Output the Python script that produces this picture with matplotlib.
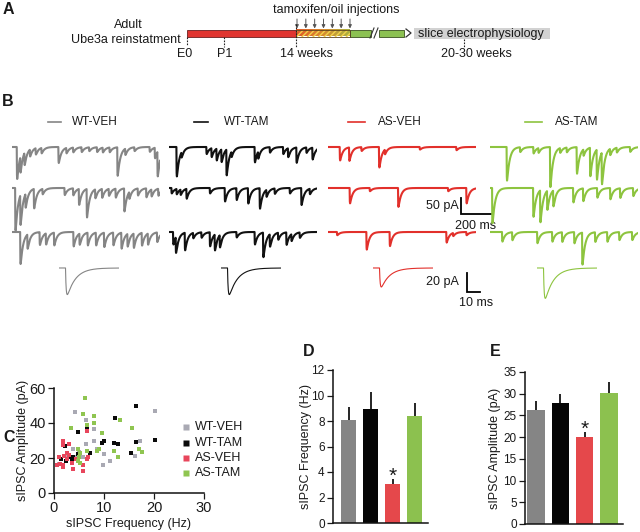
import numpy as np
import matplotlib
matplotlib.use("Agg")
import matplotlib.pyplot as plt
from matplotlib.patches import Rectangle
from matplotlib.colors import LinearSegmentedColormap

plt.rcParams['font.family'] = ['Liberation Sans', 'DejaVu Sans']

W, H = 640, 532
fig = plt.figure(figsize=(6.4, 5.32), dpi=100)


def px_axes(x0, y0, w, h):
    ax = fig.add_axes([x0 / W, 1 - (y0 + h) / H, w / W, h / H])
    ax.patch.set_visible(False)
    return ax


# ---------------- data ----------------
groups = ["WT-VEH", "WT-TAM", "AS-VEH", "AS-TAM"]
trace_colors = ["#858585", "#111111", "#e2302b", "#8dc43f"]
bar_colors = ["#858585", "#050505", "#e5484b", "#8cc14f"]
scatter_colors = ["#a9a9b3", "#0a0a0a", "#e8465c", "#8fc550"]

# Panel A
timeline_labels = ["E0", "P1", "14 weeks", "20-30 weeks"]
n_injections = 7

# Panel B: spontaneous events per sweep, (time ms, amplitude pA)
events_wt_veh = [
    [(32, 100), (55, 50), (83, 39), (120, 22), (159, 20), (198, 17), (313, 50), (366, 17),
     (412, 15), (469, 15), (520, 12), (573, 15), (612, 15), (658, 15), (711, 89), (764, 20),
     (826, 12), (929, 15), (964, 33), (982, 78)],
    [(21, 133), (55, 94), (90, 44), (147, 61), (205, 17), (354, 22), (412, 22), (451, 50),
     (504, 89), (561, 28), (607, 28), (653, 22), (699, 28), (757, 72), (791, 22), (849, 22),
     (906, 28), (941, 22), (987, 22)],
    [(55, 100), (103, 45), (186, 40), (228, 35), (283, 40), (414, 45), (455, 35), (510, 40),
     (566, 40), (621, 45), (683, 40), (738, 50), (779, 40), (821, 45), (876, 40), (917, 35),
     (979, 30)],
]
events_wt_tam = [
    [(50, 92), (83, 17), (252, 22), (286, 28), (320, 37), (353, 40), (387, 81), (421, 17),
     (578, 48), (601, 22), (680, 17), (770, 22), (803, 28), (860, 48), (927, 17), (968, 37)],
    [(16, 17), (50, 17), (77, 17), (117, 31), (275, 17), (376, 42), (455, 37), (533, 48),
     (612, 64), (657, 22), (713, 17), (815, 17), (893, 53), (950, 17)],
    [(27, 39), (45, 50), (106, 55), (162, 17), (218, 17), (275, 44), (308, 50), (342, 39),
     (455, 17), (578, 39), (635, 77), (680, 39), (736, 22), (792, 39), (826, 22), (882, 17)],
]
events_as_veh = [
    [(79, 42), (142, 42), (225, 12), (344, 64), (383, 15), (619, 8), (866, 10)],
    [(146, 48), (281, 10), (473, 59), (810, 10), (934, 48)],
    [(60, 10), (259, 55), (416, 44), (799, 33), (844, 10), (934, 10)],
]
events_as_tam = [
    [(112, 105), (202, 15), (292, 20), (326, 15), (405, 125), (472, 15), (517, 15), (585, 83),
     (630, 20), (675, 89), (720, 94), (754, 100), (810, 20), (855, 15), (945, 15)],
    [(14, 110), (291, 90), (338, 100), (385, 60), (426, 50), (561, 45), (628, 40), (723, 30),
     (811, 35), (878, 30), (966, 25)],
    [(81, 30), (149, 25), (318, 35), (419, 30), (486, 30), (568, 35), (622, 100), (709, 30),
     (791, 30), (872, 25), (959, 25)],
]
events_all = [events_wt_veh, events_wt_tam, events_as_veh, events_as_tam]
mean_event_amp = [28, 28, 20, 32]   # averaged sIPSC peak (pA)

# Panel C: per-cell frequency (Hz) and amplitude (pA)
freq_wt_veh = [4.2, 6.4, 7.9, 7.9, 6.4, 5.0, 3.7, 4.4, 5.7, 9.9, 9.7, 11.1, 20.1, 17.2, 16.2, 1.0, 2.5, 8.5]
amp_wt_veh = [46.2, 42.0, 36.4, 29.7, 27.8, 23.5, 25.4, 20.3, 20.3, 22.2, 16.1, 18.4, 46.8, 29.7, 21.2, 16.5, 21.2, 25.0]
freq_wt_tam = [16.4, 12.2, 6.5, 4.7, 9.5, 10.0, 12.0, 12.7, 16.4, 20.1, 15.4, 7.2, 4.8, 2.1, 1.3, 3.0, 3.5, 2.3, 3.8]
amp_wt_tam = [49.6, 43.0, 36.7, 34.8, 28.4, 29.7, 28.4, 27.8, 29.2, 30.3, 23.1, 23.1, 22.2, 26.9, 19.7, 20.8, 19.3, 18.4, 20.3]
freq_as_veh = [1.8, 1.8, 3.0, 0.5, 1.1, 1.8, 1.8, 3.8, 5.8, 5.7, 6.8, 6.6, 2.0, 2.5, 3.0, 3.5, 4.4, 4.8, 2.5, 6.5, 1.0]
amp_as_veh = [29.7, 27.3, 27.8, 15.9, 16.5, 16.1, 14.6, 14.0, 12.7, 15.9, 20.3, 19.3, 21.2, 19.7, 21.6, 17.0, 19.3, 18.4, 23.1, 35.6, 20.8]
freq_as_tam = [6.1, 5.8, 8.0, 8.0, 6.5, 3.4, 9.5, 13.1, 15.6, 4.8, 5.2, 5.0, 5.2, 4.8, 8.9, 8.5, 11.9, 12.7, 16.9, 17.6, 6.6]
amp_as_tam = [54.4, 44.9, 43.9, 40.2, 38.6, 37.3, 34.5, 41.7, 37.3, 25.0, 23.1, 20.3, 17.4, 18.4, 25.0, 24.1, 24.1, 20.8, 25.4, 23.5, 24.0]
scatter_freq = [freq_wt_veh, freq_wt_tam, freq_as_veh, freq_as_tam]
scatter_amp = [amp_wt_veh, amp_wt_tam, amp_as_veh, amp_as_tam]

# Panels D / E: mean + SEM
freq_mean = [8.07, 8.93, 3.04, 8.38]
freq_sem = [1.03, 1.37, 0.39, 1.07]
amp_mean = [26.3, 27.9, 20.1, 30.2]
amp_sem = [2.0, 2.1, 1.0, 2.5]
signif = [False, False, True, False]

FS = 8.5
TXT = "#1a1a1a"

# ---------------- overlay (panel A + labels) ----------------
ov = fig.add_axes([0, 0, 1, 1])
ov.set_xlim(0, W)
ov.set_ylim(H, 0)
ov.axis("off")

for lab, (x, y) in zip("ABCDE", [(3, 9), (2, 102), (3, 437), (303, 352), (490, 352)]):
    ov.text(x, y, lab, fontsize=11.5, fontweight="bold", va="center", ha="left", color=TXT)

# timeline
bar_top, bar_bot = 29.5, 36.5
ov.add_patch(Rectangle((187, bar_top), 296 - 187, bar_bot - bar_top, facecolor="#e03530",
                       edgecolor="#6a2020", lw=0.6, zorder=2))
grad = np.linspace(0, 1, 100).reshape(1, -1)
cmap = LinearSegmentedColormap.from_list("og", ["#e05a28", "#d88a30", "#a8b040"])
ov.imshow(grad, extent=[296, 350, bar_bot, bar_top], aspect="auto", cmap=cmap, zorder=2)
ov.add_patch(Rectangle((296, bar_top), 54, bar_bot - bar_top, fill=False, hatch="//////",
                       edgecolor="#f2d24a", lw=0, zorder=3))
ov.add_patch(Rectangle((296, bar_top), 54, bar_bot - bar_top, fill=False,
                       edgecolor="#5a4020", lw=0.6, zorder=4))
ov.add_patch(Rectangle((350, bar_top), 21, bar_bot - bar_top, facecolor="#8cc152",
                       edgecolor="#3a5020", lw=0.6, zorder=2))
ov.add_patch(Rectangle((379, bar_top), 25, bar_bot - bar_top, facecolor="#8cc152",
                       edgecolor="#3a5020", lw=0.6, zorder=2))
ov.plot([370, 374], [bar_bot + 1.5, bar_top - 1.5], color="#333", lw=0.8, zorder=5)
ov.plot([374, 378], [bar_bot + 1.5, bar_top - 1.5], color="#333", lw=0.8, zorder=5)
ov.plot([406, 411, 406], [bar_top - 0.5, 33, bar_bot + 0.5], color="#333", lw=0.9, zorder=5)
ov.add_patch(Rectangle((414, 28), 136, 11, facecolor="#d2d2d2", edgecolor="none", zorder=1))
ov.text(418, 33.5, "slice electrophysiology", fontsize=9, va="center", ha="left", color=TXT, zorder=3)
ov.text(336, 10, "tamoxifen/oil injections", fontsize=9, va="center", ha="center", color=TXT)
ov.text(128, 25, "Adult", fontsize=9, va="center", ha="center", color=TXT)
ov.text(181, 40, "Ube3a reinstatment", fontsize=9, va="center", ha="right", color=TXT)
for x in np.linspace(297, 350, n_injections):
    ov.annotate("", xy=(x, 28.5), xytext=(x, 19),
                arrowprops=dict(arrowstyle="-|>", color="#555555", lw=0.7,
                                mutation_scale=5, shrinkA=0, shrinkB=0))
for xl, (y0, y1) in zip([187, 224, 296, 464], [(36.5, 46), (37, 47), (24, 47), (39, 48)]):
    ov.plot([xl, xl], [y0, y1], color="#222", lw=0.8, ls=(0, (1.5, 1.2)), zorder=5)
for lab, xc in zip(timeline_labels, [185, 225, 307, 476]):
    ov.text(xc, 54, lab, fontsize=9, va="center", ha="center", color=TXT)

# panel B legend
for g, c, (l0, l1, tx) in zip(groups, trace_colors,
                              [(48, 61, 72), (194, 208, 224), (348, 365, 378), (525, 542, 555)]):
    ov.plot([l0, l1], [122, 122], color=c, lw=1.2)
    ov.text(tx, 122, g, fontsize=FS, va="center", ha="left", color=TXT)

# panel C legend
for i, (g, c) in enumerate(zip(groups, scatter_colors)):
    y = [427, 443, 458, 473][i]
    ov.plot([186], [y], marker="s", ms=4, color=c, mec="none")
    ov.text(195, y, g, fontsize=FS + 0.5, va="center", ha="left", color=TXT)

ov.set_xlim(0, W)
ov.set_ylim(H, 0)

# ---------------- panel B traces ----------------
PX_MS = 0.148
PX_PA = 0.32
t = np.arange(0, 1000, 0.5)


def sweep(tt, evs, tr, td):
    y = np.zeros_like(tt)
    tpk = tr * td / (td - tr) * np.log(td / tr)
    norm = np.exp(-tpk / td) - np.exp(-tpk / tr)
    for t0, a in evs:
        dt = tt - t0
        m = dt > 0
        y[m] += a * (np.exp(-dt[m] / td) - np.exp(-dt[m] / tr)) / norm
    return -y


col_left = [12, 169, 328, 490]
top_px, h_px = 138, 144
row_base = [-(147 - top_px) / PX_PA, -(188 - top_px) / PX_PA, -(232 - top_px) / PX_PA]
for ci in range(4):
    ax = px_axes(col_left[ci], top_px, 1000 * PX_MS, h_px)
    ax.set_xlim(0, 1000)
    ax.set_ylim(-h_px / PX_PA, 0)
    ax.axis("off")
    for ri in range(3):
        ax.plot(t, row_base[ri] + sweep(t, events_all[ci][ri], 1.0, 18.0),
                color=trace_colors[ci], lw=1.5, solid_joinstyle="round")
    if ci == 2:
        xb = (461 - col_left[ci]) / PX_MS
        yb = -(214 - top_px) / PX_PA
        ax.plot([xb, xb, xb + 200], [yb + 50, yb, yb], color="black", lw=1.3,
                clip_on=False, solid_joinstyle="miter")
        ax.text(xb - 15, yb + 25, "50 pA", fontsize=FS + 0.5, ha="right", va="center", color=TXT)
        ax.text(xb + 100, yb - 6 / PX_PA, "200 ms", fontsize=FS + 0.5, ha="center", va="top", color=TXT)

# averaged events
A_PX_MS, A_PX_PA = 1.3, 0.95
avg_left = [59, 221, 373, 537]
ta = np.arange(0, 46, 0.1)
for ci in range(4):
    ax = px_axes(avg_left[ci], 260, 60, 50)
    ax.set_xlim(0, 60 / A_PX_MS)
    ax.set_ylim(8.4 - 50 / A_PX_PA, 8.4)
    ax.axis("off")
    ax.plot(ta, sweep(ta, [(5, mean_event_amp[ci])], 0.5, 6.5), color=trace_colors[ci], lw=0.8)
    if ci == 2:
        xb = (467 - avg_left[ci]) / A_PX_MS
        yb = 8.4 - (292 - 260) / A_PX_PA
        ax.plot([xb, xb, xb + 10], [yb + 20, yb, yb], color="black", lw=1.3,
                clip_on=False, solid_joinstyle="miter")
        ax.text(xb - 6, yb + 10, "20 pA", fontsize=FS + 0.5, ha="right", va="center", color=TXT)
        ax.text(xb + 7, yb - 5, "10 ms", fontsize=FS + 0.5, ha="center", va="top", color=TXT)


def style_axes(ax):
    for s in ["top", "right"]:
        ax.spines[s].set_visible(False)
    for s in ["left", "bottom"]:
        ax.spines[s].set_linewidth(1.1)
        ax.spines[s].set_color("#111")
    ax.tick_params(direction="out", length=4, width=0.9, labelsize=FS, colors=TXT, pad=2)


# ---------------- panel C ----------------
axc = px_axes(54, 388, 150, 105)
style_axes(axc)
for f, a, c in zip(scatter_freq, scatter_amp, scatter_colors):
    axc.scatter(f, a, marker="s", s=11, color=c, linewidths=0, zorder=3)
axc.set_xlim(0, 30)
axc.set_ylim(0, 60)
axc.set_xticks([0, 10, 20, 30])
axc.set_yticks([0, 20, 40, 60])
axc.tick_params(labelsize=FS + 2)
axc.set_ylabel("sIPSC Amplitude (pA)", fontsize=FS + 0.5, color=TXT)
axc.set_xlabel("sIPSC Frequency (Hz)", fontsize=FS + 0.5, color=TXT)
axc.yaxis.set_label_coords(-0.165, 0.5)
axc.xaxis.set_label_coords(0.5, -0.24)

# ---------------- panels D, E ----------------
x = np.arange(4)


def bar_panel(ax, means, sems, width, xlim, ylim, yticks, ylabel, lab_x):
    style_axes(ax)
    ax.bar(x, means, width=width, color=bar_colors, edgecolor="none", zorder=2)
    ax.errorbar(x, means, yerr=[[0] * 4, sems], fmt="none", ecolor="black",
                elinewidth=1.2, capsize=0, zorder=3)
    for xi, m, s, sg in zip(x, means, sems, signif):
        if sg:
            ax.annotate("*", xy=(xi, m + s), xytext=(0, -5), textcoords="offset points",
                        ha="center", va="bottom", fontsize=15, color=TXT)
    ax.set_xlim(*xlim)
    ax.set_ylim(*ylim)
    ax.set_yticks(yticks)
    ax.set_xticks([])
    ax.set_ylabel(ylabel, fontsize=FS + 0.5, color=TXT)
    ax.yaxis.set_label_coords(lab_x, 0.5)


axd = px_axes(333, 370, 95, 153)
bar_panel(axd, freq_mean, freq_sem, 0.68, (-0.70, 3.59), (0, 12), range(0, 13, 2),
          "sIPSC Frequency (Hz)", -0.22)
axe = px_axes(525, 372, 98, 152)
bar_panel(axe, amp_mean, amp_sem, 0.72, (-0.45, 3.58), (0, 35), range(0, 36, 5),
          "sIPSC Amplitude (pA)", -0.245)

fig.savefig("out.png", dpi=100)
